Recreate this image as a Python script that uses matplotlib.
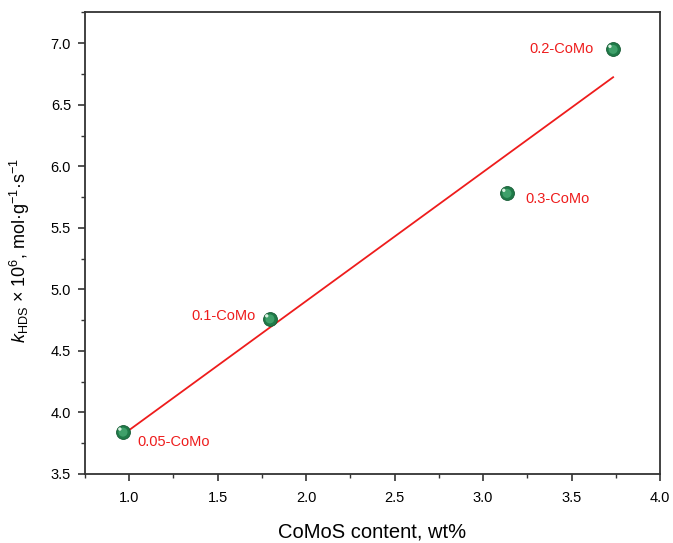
import matplotlib.pyplot as plt
import numpy as np

plt.rcParams['font.family'] = ['Liberation Sans', 'DejaVu Sans']
plt.rcParams['mathtext.fontset'] = 'custom'
plt.rcParams['mathtext.rm'] = 'Liberation Sans'
plt.rcParams['mathtext.it'] = 'Liberation Sans:italic'

# data
samples = ['0.05-CoMo', '0.1-CoMo', '0.3-CoMo', '0.2-CoMo']
comos = [0.965, 1.795, 3.135, 3.735]
k_hds = [3.84, 4.76, 5.78, 6.95]

x_ticks = [1.0, 1.5, 2.0, 2.5, 3.0, 3.5, 4.0]
y_ticks = [3.5, 4.0, 4.5, 5.0, 5.5, 6.0, 6.5, 7.0]

fig = plt.figure(figsize=(6.73, 5.43), dpi=100)
ax = fig.add_axes([0.1263, 0.1271, 0.8544, 0.8499])

# linear fit
x = np.array(comos)
y = np.array(k_hds)
slope, icpt = np.polyfit(x, y, 1)
xf = np.array([x.min(), x.max()])
ax.plot(xf, slope * xf + icpt, color='#ee1c1c', lw=1.3, zorder=2)

# sphere-like markers
ax.scatter(x, y, s=100, color='#1f7a48', edgecolors='#175c36', linewidths=0.6, zorder=3)
ax.scatter(x, y, s=42, color='#3fa06a', edgecolors='none', zorder=4)
ax.scatter(x - 0.018, y + 0.025, s=6, color='#d8f0e0', edgecolors='none', zorder=5)

offsets = {
    '0.05-CoMo': (10, -7, 'left'),
    '0.1-CoMo': (-10, 2, 'right'),
    '0.3-CoMo': (13, -4, 'left'),
    '0.2-CoMo': (-14, 0, 'right'),
}
for name, xi, yi in zip(samples, comos, k_hds):
    dx, dy, ha = offsets[name]
    ax.annotate(name, (xi, yi), xytext=(dx, dy), textcoords='offset points',
                ha=ha, va='center', color='#ee1c1c', fontsize=10.5)

ax.set_xlim(0.75, 4.0)
ax.set_ylim(3.5, 7.25)
ax.set_xticks(x_ticks)
ax.set_yticks(y_ticks)
ax.set_xticks(np.arange(0.75, 4.01, 0.25), minor=True)
ax.set_yticks(np.arange(3.5, 7.26, 0.25), minor=True)
ax.xaxis.set_major_formatter(plt.FormatStrFormatter('%.1f'))
ax.yaxis.set_major_formatter(plt.FormatStrFormatter('%.1f'))
ax.tick_params(which='major', direction='out', length=5, width=1.2, color='#333333',
               labelsize=10.5)
ax.tick_params(which='minor', direction='out', length=3, width=1.0, color='#333333')
ax.tick_params(axis='x', pad=7.5)
ax.tick_params(axis='y', pad=5)
for sp in ax.spines.values():
    sp.set_color('#333333')
    sp.set_linewidth(1.3)

ax.set_xlabel('CoMoS content, wt%', fontsize=14.5)
ax.xaxis.set_label_coords(0.5, -0.105)
ax.set_ylabel(r'$k_\mathregular{HDS}$ × 10$^\mathregular{6}$, mol·g$^\mathregular{−1}$·s$^\mathregular{−1}$',
              fontsize=13)
ax.yaxis.set_label_coords(-0.093, 0.485)

fig.savefig('out.png', dpi=100)
